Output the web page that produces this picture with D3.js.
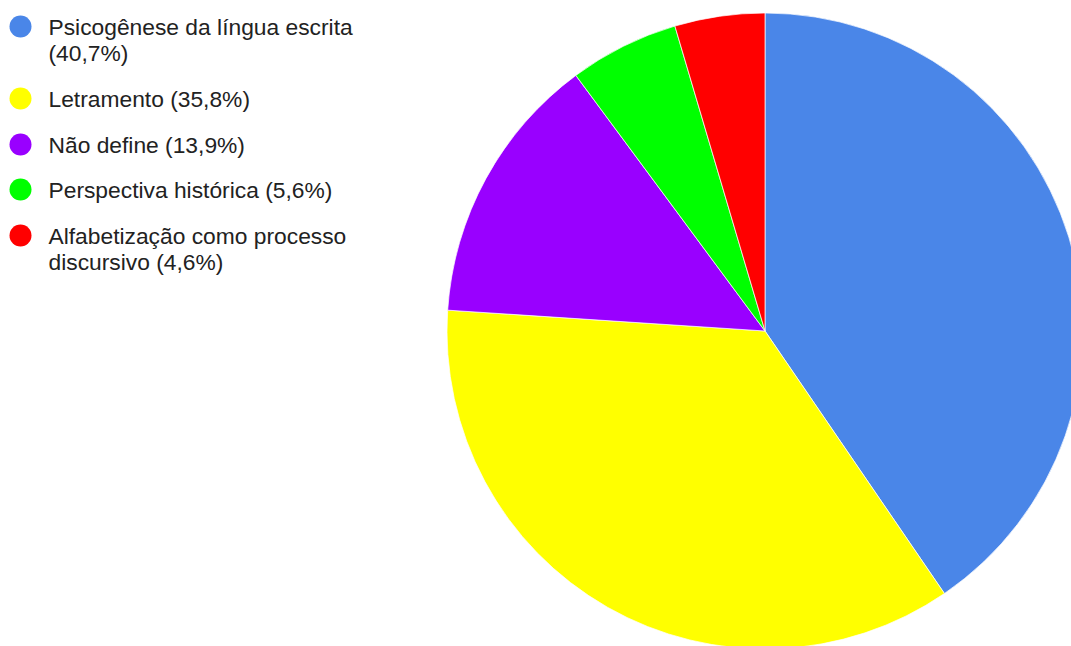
<!DOCTYPE html>
<html>
<head>
<meta charset="utf-8">
<script src="https://cdn.jsdelivr.net/npm/d3@7"></script>
<style>
  html, body { margin: 0; padding: 0; background: #fff; }
  svg { display: block; }
</style>
</head>
<body>
<svg id="chart" width="1071" height="646"></svg>
<script>
// Concepções de alfabetização – percentual de respostas
const categories = [
  "Psicogênese da língua escrita",
  "Letramento",
  "Não define",
  "Perspectiva histórica",
  "Alfabetização como processo discursivo"
];
const values = [40.7, 35.8, 13.9, 5.6, 4.6];
const labels = ["40,7%", "35,8%", "13,9%", "5,6%", "4,6%"];
const colors = ["#4a86e8", "#ffff00", "#9900ff", "#00ff00", "#ff0000"];

const data = categories.map((c, i) => ({ name: c, value: values[i], label: labels[i] }));

const svg = d3.select("#chart");

// Pie
const cx = 765, cy = 331, radius = 318;
const pie = d3.pie().sort(null).value(d => d.value);
const arc = d3.arc().innerRadius(0).outerRadius(radius);
const color = d3.scaleOrdinal().domain(categories).range(colors);

svg.append("g")
  .attr("transform", `translate(${cx},${cy})`)
  .selectAll("path")
  .data(pie(data))
  .join("path")
  .attr("d", arc)
  .attr("fill", d => color(d.data.name))
  .attr("stroke", "#fff")
  .attr("stroke-width", 0.7);

// Legend (wrapped entries)
const legendLines = [
  ["Psicogênese da língua escrita", "(40,7%)"],
  ["Letramento (35,8%)"],
  ["Não define (13,9%)"],
  ["Perspectiva histórica (5,6%)"],
  ["Alfabetização como processo", "discursivo (4,6%)"]
];
const baselines = [34.5, 106.5, 152.5, 197.5, 243.5];
const lineH = 26.5;

const legend = svg.append("g");
data.forEach((d, i) => {
  const g = legend.append("g");
  g.append("circle")
    .attr("cx", 20.5)
    .attr("cy", baselines[i] - 8)
    .attr("r", 11)
    .attr("fill", color(d.name));
  const t = g.append("text")
    .attr("x", 48.5)
    .attr("y", baselines[i])
    .attr("font-family", "'Liberation Sans', Arial, sans-serif")
    .attr("font-size", 22.8)
    .attr("fill", "#222");
  legendLines[i].forEach((line, j) => {
    t.append("tspan")
      .attr("x", 48.5)
      .attr("y", baselines[i] + j * lineH)
      .text(line);
  });
});
</script>
</body>
</html>
